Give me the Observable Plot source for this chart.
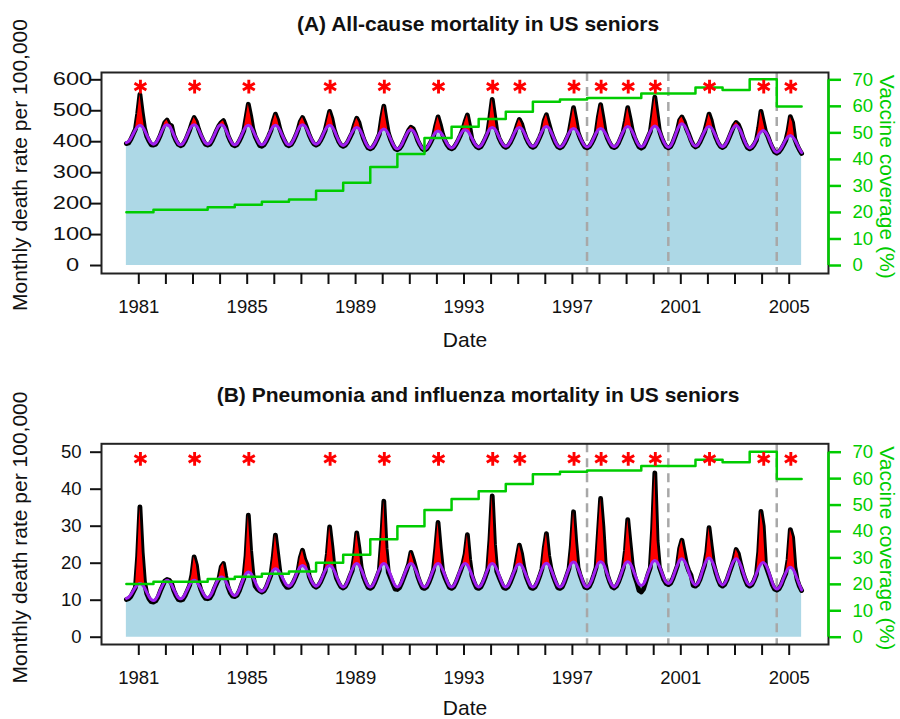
<!DOCTYPE html>
<html><head><meta charset="utf-8">
<script src="https://cdn.jsdelivr.net/npm/d3@7"></script>
<script src="https://cdn.jsdelivr.net/npm/@observablehq/plot@0.6"></script>
<style>
body{margin:0;background:#fff;}
#chart{width:900px;}
#chart svg{display:block;}
</style></head><body><div id="chart"></div>
<script>
// ---- Data (monthly, each row = one season Jul..Jun, seasons 1980/81 .. 2004/05) ----
const seasonStartYears = d3.range(1980, 2005);

const allcauseBaseline = [
[397,401,411,425,439,449,453,449,438,422,407,396],
[392,396,408,423,439,451,455,451,439,422,406,394],
[390,394,406,422,439,451,455,451,439,423,408,396],
[392,396,408,423,439,451,455,451,439,422,406,394],
[390,394,406,421,437,449,453,449,437,421,406,394],
[390,394,406,421,437,449,453,449,437,421,406,394],
[390,394,406,422,439,451,455,451,439,423,408,396],
[392,396,407,422,438,449,453,449,437,420,404,392],
[388,392,402,417,431,442,446,442,430,413,396,384],
[380,384,395,410,426,437,441,437,425,409,393,381],
[377,381,392,408,423,435,439,435,423,407,392,380],
[376,380,391,405,420,431,435,431,421,407,394,384],
[380,384,395,409,424,435,439,435,425,411,397,387],
[383,387,399,414,430,442,446,442,431,415,400,389],
[385,389,400,415,431,442,446,442,431,415,400,389],
[385,389,401,417,433,445,449,445,432,416,399,387],
[383,387,398,413,428,439,443,439,428,413,398,387],
[383,387,398,413,428,439,443,439,428,414,399,388],
[384,388,400,417,433,445,449,445,433,417,400,388],
[384,388,401,418,434,446,451,446,434,416,399,387],
[382,387,401,420,439,453,458,453,440,422,404,391],
[386,390,402,418,433,445,449,445,433,417,400,388],
[384,389,401,418,435,447,452,447,434,416,398,385],
[380,384,394,408,422,432,436,431,419,401,384,371],
[366,370,380,393,407,416,420,416,406,392,377,365]
];

const allcauseObserved = [
[394,396,408,424,440,490,553,495,445,418,402,390],
[389,392,404,420,440,462,470,455,452,420,403,391],
[387,390,402,419,437,460,478,465,440,420,404,392],
[389,392,404,420,437,452,462,468,448,420,403,390],
[387,390,402,418,435,478,521,485,442,418,402,388],
[385,390,402,418,436,466,489,470,440,419,403,390],
[387,391,403,419,438,465,478,462,442,421,405,393],
[389,393,404,419,436,468,498,475,440,418,401,389],
[385,389,399,414,429,455,476,462,433,410,393,380],
[377,381,392,407,424,475,515,470,428,406,390,377],
[374,378,389,405,421,437,447,442,425,404,389,377],
[372,377,388,402,418,452,480,455,425,404,390,380],
[377,381,392,406,422,440,465,486,450,408,394,384],
[380,384,396,411,428,480,537,485,435,412,397,386],
[382,386,397,412,429,452,472,458,433,412,397,386],
[382,386,398,414,432,468,487,460,434,413,396,384],
[380,384,395,410,427,468,510,472,430,410,395,383],
[380,384,395,410,428,480,520,478,432,411,396,384],
[381,385,397,414,432,468,510,475,436,414,397,383],
[379,383,398,415,432,485,544,490,436,413,396,384],
[380,384,398,417,437,470,480,465,442,425,405,389],
[383,387,399,415,431,460,489,468,436,414,397,385],
[381,386,398,415,433,452,462,455,437,413,395,381],
[377,381,391,405,445,498,465,433,418,398,381,367],
[363,367,377,390,404,435,481,462,408,389,374,362]
];

const piBaseline = [
[10.5,10.8,11.5,12.5,13.5,14.2,14.5,14.2,13.4,12.2,11.0,10.2],
[9.9,10.3,11.3,12.7,14.0,15.0,15.4,15.1,14.2,12.9,11.7,10.7],
[10.4,10.7,11.7,12.9,14.2,15.1,15.4,15.1,14.2,13.1,11.9,11.0],
[10.7,11.1,12.1,13.5,14.9,15.9,16.3,16.0,15.1,13.8,12.6,11.6],
[11.3,11.7,12.9,14.5,16.0,17.2,17.6,17.3,16.3,15.0,13.7,12.7],
[12.4,12.8,13.9,15.5,17.0,18.1,18.5,18.2,17.3,16.2,15.0,14.1],
[13.8,14.2,15.2,16.6,18.0,19.0,19.4,19.0,18.0,16.6,15.2,14.2],
[13.8,14.2,15.2,16.6,18.0,19.0,19.4,19.0,18.0,16.5,15.1,14.0],
[13.6,14.0,15.2,16.8,18.3,19.5,19.9,19.5,18.3,16.8,15.2,14.0],
[13.6,14.0,15.2,16.8,18.3,19.5,19.9,19.5,18.3,16.8,15.2,14.0],
[13.6,14.0,15.2,16.8,18.3,19.5,19.9,19.5,18.3,16.8,15.2,14.0],
[13.6,14.0,15.2,16.8,18.3,19.5,19.9,19.5,18.3,16.8,15.2,14.0],
[13.6,14.0,15.2,16.8,18.3,19.5,19.9,19.5,18.3,16.8,15.2,14.0],
[13.6,14.0,15.2,16.8,18.3,19.5,19.9,19.5,18.3,16.8,15.2,14.0],
[13.6,14.0,15.2,16.7,18.2,19.4,19.8,19.4,18.2,16.7,15.2,14.0],
[13.6,14.0,15.2,16.8,18.4,19.6,20.0,19.6,18.4,16.8,15.2,14.0],
[13.6,14.0,15.3,17.0,18.6,19.9,20.3,19.9,18.6,17.0,15.3,14.0],
[13.6,14.1,15.3,17.0,18.7,20.0,20.4,20.0,18.7,17.0,15.3,14.1],
[13.6,14.1,15.3,17.0,18.7,20.0,20.4,20.0,18.8,17.2,15.6,14.4],
[14.0,14.4,15.7,17.4,19.0,20.3,20.7,20.3,19.2,17.6,16.0,14.9],
[14.5,14.9,16.2,17.9,19.5,20.8,21.2,20.7,19.5,17.7,15.9,14.6],
[14.1,14.6,15.9,17.8,19.6,20.9,21.4,20.9,19.6,17.8,15.9,14.6],
[14.1,14.6,15.9,17.7,19.4,20.7,21.2,20.7,19.4,17.7,15.9,14.6],
[14.1,14.5,15.6,17.2,18.7,19.8,20.2,19.7,18.4,16.6,14.8,13.5],
[13.0,13.4,14.5,16.0,17.4,18.5,18.9,18.5,17.4,15.8,14.2,12.8]
];

const piObserved = [
[10.2,10.4,11.0,12.2,13.4,22.0,35.2,23.0,15.0,11.8,10.4,9.6],
[9.5,9.8,10.8,12.4,13.8,15.2,15.6,15.4,14.6,12.6,11.2,10.2],
[10.0,10.2,11.2,12.6,14.0,16.8,21.7,19.5,14.8,12.8,11.4,10.5],
[10.4,10.6,11.6,13.2,14.6,15.8,19.0,19.9,16.5,13.6,12.0,11.1],
[11.0,11.3,12.5,14.2,15.8,22.0,33.0,23.5,17.0,13.8,13.0,12.5],
[12.2,12.5,13.6,15.2,16.8,21.5,27.6,22.5,17.5,15.5,14.3,13.5],
[13.5,13.9,14.9,16.3,17.8,21.5,23.5,21.0,19.6,16.4,14.9,13.9],
[13.5,13.9,14.9,16.3,17.8,22.5,29.8,24.5,18.5,16.0,14.7,13.6],
[13.3,13.7,14.9,16.5,18.0,22.0,28.2,24.0,18.8,16.4,14.8,13.5],
[13.2,13.6,14.8,16.4,18.0,26.0,36.8,24.0,17.5,16.0,14.5,13.0],
[12.9,13.4,14.8,16.4,18.0,19.8,22.9,21.0,18.8,16.5,14.8,13.4],
[13.2,13.6,14.8,16.4,18.2,24.0,31.0,24.0,18.0,16.2,14.8,13.5],
[13.2,13.6,14.8,16.4,18.0,19.8,22.5,27.7,21.0,16.6,14.8,13.4],
[13.2,13.6,14.8,16.4,18.2,26.5,38.2,25.0,17.8,16.2,14.8,13.4],
[13.2,13.6,14.8,16.4,18.0,21.5,24.9,22.5,18.8,16.4,14.8,13.4],
[13.2,13.6,14.8,16.5,18.4,24.0,28.0,22.0,18.6,16.5,14.9,13.4],
[13.2,13.6,14.9,16.7,18.5,24.5,33.9,25.5,18.8,16.6,14.9,13.5],
[13.3,13.7,15.0,16.8,18.8,28.0,37.5,30.0,20.0,16.8,15.0,13.6],
[13.3,13.8,15.0,16.7,18.6,23.5,31.8,25.5,19.5,16.6,14.8,12.6],
[12.2,13.0,15.0,17.0,18.8,29.0,44.4,26.0,19.0,17.2,15.5,14.5],
[14.2,14.6,15.9,17.6,19.4,24.0,26.2,23.0,19.8,18.0,16.8,14.0],
[13.8,14.3,15.6,17.5,19.4,23.0,29.6,24.5,19.8,17.5,15.6,14.2],
[13.8,14.3,15.6,17.4,19.2,21.0,23.7,22.5,19.8,17.4,15.6,14.2],
[13.8,14.2,15.4,17.0,23.0,34.0,30.0,19.5,17.8,16.0,14.2,13.0],
[12.7,13.1,14.2,15.8,17.2,21.0,29.1,27.0,19.0,15.6,13.8,12.6]
];

// vaccine coverage (%) per season 1980/81 .. 2004/05
const vaccineCoverage = [20.1,21.0,21.0,22.0,22.9,24.0,24.9,28.2,31.2,37.1,42.0,48.1,52.3,55.2,58.0,61.7,62.6,63.1,63.1,64.8,64.8,67.1,66.2,70.2,59.9];

// seasons marked with an asterisk (January of year)
const asteriskYears = [1981,1983,1985,1988,1990,1992,1994,1995,1997,1998,1999,2000,2002,2004,2005];
const dashedLineDates = [1997.54, 2000.54, 2004.54];

const xTickYears = d3.range(1981, 2006);
const xLabelYears = [1981,1985,1989,1993,1997,2001,2005];
const coverageTicks = [0,10,20,30,40,50,60,70];
const allcauseTicks = [0,100,200,300,400,500,600];
const piTicks = [0,10,20,30,40,50];

// ---- build tables ----
function monthly(obsRows, baseRows) {
  const rows = [];
  seasonStartYears.forEach((s, i) => {
    for (let m = 0; m < 12; m++) {
      rows.push({t: s + (m + 6.5) / 12, obs: obsRows[i][m], base: baseRows[i][m]});
    }
  });
  return rows;
}
const coverageRows = seasonStartYears.map((s, i) => ({t: s + 6.5 / 12, cov: vaccineCoverage[i]}));
coverageRows.push({t: 2005 + 5.5 / 12, cov: vaccineCoverage[vaccineCoverage.length - 1]});

const FONT = "'Liberation Sans', Arial, Helvetica, sans-serif";
const GREEN = "#00CC00";
const XDOMAIN = [1979.624, 2006.45];

function panel({obsRows, baseRows, yDomain, yTicks, covFactor, starLevel, height, marginTop, marginBottom, leftLabels}) {
  const rows = monthly(obsRows, baseRows);
  return Plot.plot({
    width: 900, height,
    marginLeft: 101, marginRight: 72, marginTop, marginBottom,
    x: {domain: XDOMAIN},
    y: {domain: yDomain},
    style: {fontFamily: FONT, fontSize: "18px", color: "#111", background: "white", overflow: "visible"},
    marks: [
      Plot.areaY(rows, {x: "t", y1: 0, y2: "base", fill: "#ADD8E6", curve: "catmull-rom"}),
      Plot.ruleX(dashedLineDates, {stroke: "#A8A8A8", strokeWidth: 2.5, strokeDasharray: "9,6"}),
      Plot.lineY(rows, {x: "t", y: "obs", stroke: "#000", strokeWidth: 4.8, strokeLinejoin: "round"}),
      Plot.areaY(rows, {x: "t", y1: "base", y2: d => Math.max(d.obs, d.base), fill: "#FF0000"}),
      Plot.lineY(rows, {x: "t", y: "base", stroke: "#A020F0", strokeWidth: 3, curve: "catmull-rom"}),
      Plot.line(coverageRows, {x: "t", y: d => d.cov * covFactor, stroke: GREEN, strokeWidth: 2.5, curve: "step-after"}),
      Plot.dot(asteriskYears, {x: d => d + 0.06, y: starLevel, symbol: "asterisk", r: 6.5, stroke: "#FF0000", strokeWidth: 2.9}),
      Plot.frame({stroke: "#222", strokeWidth: 2}),
      Plot.axisX(xTickYears, {tickSize: 11, tickPadding: 15, strokeWidth: 2, fontSize: 18.5, label: null,
        tickFormat: d => xLabelYears.includes(d) ? String(d) : ""}),
      Plot.axisY(yTicks, {anchor: "left", tickSize: 11, tickPadding: 9, strokeWidth: 2, fontSize: 18.5, label: null,
        tickFormat: leftLabels ? (d => String(d)) : (() => "")}),
      Plot.ruleX([XDOMAIN[1]], {y1: 0, y2: 70 * covFactor, stroke: GREEN, strokeWidth: 2.5}),
      Plot.axisY(coverageTicks.map(k => k * covFactor), {anchor: "right", tickSize: 12, tickPadding: 12, strokeWidth: 2.5,
        color: GREEN, fontSize: 18.5, label: null, tickFormat: d => String(Math.round(d / covFactor))})
    ]
  });
}

const svgA = panel({obsRows: allcauseObserved, baseRows: allcauseBaseline, yDomain: [-25.8, 623.6], yTicks: allcauseTicks,
  covFactor: 600 / 70, starLevel: 578, height: 360, marginTop: 72, marginBottom: 87, leftLabels: false});
const svgB = panel({obsRows: piObserved, baseRows: piBaseline, yDomain: [-1.97, 52.27], yTicks: piTicks,
  covFactor: 50 / 70, starLevel: 48.2, height: 359, marginTop: 83.3, marginBottom: 75, leftLabels: true});

const chart = document.getElementById("chart");
chart.append(svgA, svgB);

function label(svg, {x, y, text, size = 21, weight = "normal", rotate = 0, fill = "#111", sx = 1, dy = null}) {
  const t = d3.select(svg).append("text")
    .attr("transform", `translate(${x},${y}) rotate(${rotate}) scale(${sx},1)`)
    .attr("text-anchor", "middle")
    .attr("font-family", FONT)
    .attr("font-size", size)
    .attr("font-weight", weight)
    .attr("fill", fill)
    .text(text);
  if (dy) t.attr("dy", dy);
}

// top panel's left tick labels: centred and drawn wider in the original
const yScaleA = svgA.scale("y");
allcauseTicks.forEach(v => label(svgA, {x: 72.5, y: yScaleA.apply(v), text: String(v), size: 17.5, sx: 1.35, dy: "0.35em"}));

label(svgA, {x: 478, y: 30.5, text: "(A) All-cause mortality in US seniors", weight: "bold"});
label(svgA, {x: 465, y: 346.5, text: "Date"});
label(svgA, {x: 27.3, y: 165, text: "Monthly death rate per 100,000", rotate: -90});
label(svgA, {x: 880, y: 176.7, text: "Vaccine coverage (%)", rotate: 90, fill: GREEN});

label(svgB, {x: 478, y: 41.5, text: "(B) Pneumonia and influenza mortality in US seniors", weight: "bold"});
label(svgB, {x: 465, y: 355, text: "Date"});
label(svgB, {x: 27.3, y: 177.5, text: "Monthly death rate per 100,000", rotate: -90});
label(svgB, {x: 880, y: 188.3, text: "Vaccine coverage (%)", rotate: 90, fill: GREEN});
</script>
</body></html>
